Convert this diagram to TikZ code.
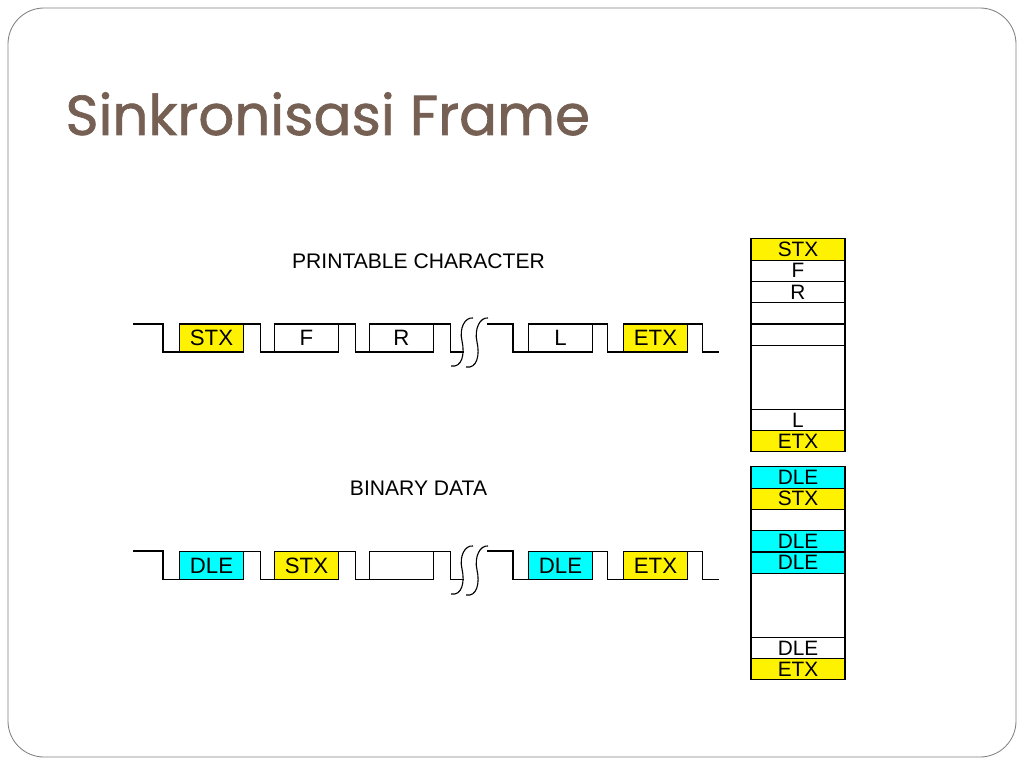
\documentclass[tikz,border=0pt]{standalone}
\usepackage{fontspec}
\setmainfont{Liberation Sans}
\newfontfamily\titlefont[FakeBold=1.2]{Poppins}
\usetikzlibrary{positioning}
\definecolor{titlebrown}{RGB}{118,96,84}
\definecolor{dlecyan}{RGB}{0,255,255}
\tikzset{
  char/.style={
    draw,
    inner sep = 0pt,
    outer sep = 0pt,
    minimum width = 1.6cm,
    minimum height = 0.7cm,
    font = \fontsize{15.8}{17}\selectfont
  },
  cell/.style={
    draw,
    inner sep = 0pt,
    outer sep = 0pt,
    minimum width = 2.35cm,
    minimum height = 0.532cm,
    font = \fontsize{14.8}{16}\selectfont
  },
  bigcell/.style={
    cell,
    minimum height = 1.6cm
  },
  caption/.style={
    inner sep = 0pt,
    font = \fontsize{15}{17}\selectfont
  },
  cut/.pic={
    \draw (-12,24) .. controls (-1,26) and (2,12) .. (-1,-1) .. controls (-4,-14) and (2,-25) .. (10,-24);
    \draw (3,25) .. controls (14,27) and (17,13) .. (14,0) .. controls (11,-13) and (17,-25) .. (25,-24);
  }
}

\begin{document}
\begin{tikzpicture}[x=0.025cm, y=-0.025cm, line width=0.8pt]
    \useasboundingbox (0,0) rectangle (1024,768);
    \draw[gray, line width=0.6pt, rounded corners=0.9cm] (8,8) rectangle (1016,757);
    \node[anchor=base west, inner sep=0pt, text=titlebrown, font=\titlefont\fontsize{40}{48}\selectfont] (title) at (65,135) {Sinkronisasi Frame};

    % printable character
    \node[caption] (pc) at (418.5,261) {PRINTABLE CHARACTER};
    \node[char, fill=yellow] (a1) at (211.5,338) {STX};
    \node[char] (a2) at (306.5,338) {F};
    \node[char] (a3) at (401.5,338) {R};
    \node[char] (a5) at (560.5,338) {L};
    \node[char, fill=yellow] (a6) at (655.5,338) {ETX};
    \coordinate (a0) at (133,324);
    \coordinate (a4) at (487,324);
    \draw (a0) -- ++(30,0) |- (a1.south west);
    \draw (a1.north east) -- ++(17,0) |- (a2.south west);
    \draw (a2.north east) -- ++(17,0) |- (a3.south west);
    \draw (a3.north east) -- ++(17,0) |- ++(13,28);
    \pic at (463,342) {cut};
    \draw (a4) -- ++(26,0) |- (a5.south west);
    \draw (a5.north east) -- ++(15,0) |- (a6.south west);
    \draw (a6.north east) -- ++(15,0) |- ++(16,28);

    % binary data
    \node[caption] (bd) at (418.5,488) {BINARY DATA};
    \node[char, fill=dlecyan] (b1) at (211.5,565.5) {DLE};
    \node[char, fill=yellow] (b2) at (306.5,565.5) {STX};
    \node[char] (b3) at (401.5,565.5) {};
    \node[char, fill=dlecyan] (b5) at (560.5,565.5) {DLE};
    \node[char, fill=yellow] (b6) at (655.5,565.5) {ETX};
    \coordinate (b0) at (133,551);
    \coordinate (b4) at (487,551);
    \draw (b0) -- ++(30,0) |- (b1.south west);
    \draw (b1.north east) -- ++(17,0) |- (b2.south west);
    \draw (b2.north east) -- ++(17,0) |- (b3.south west);
    \draw (b3.north east) -- ++(17,0) |- ++(13,28);
    \pic at (463,570) {cut};
    \draw (b4) -- ++(26,0) |- (b5.south west);
    \draw (b5.north east) -- ++(15,0) |- (b6.south west);
    \draw (b6.north east) -- ++(15,0) |- ++(16,28);

    % stacks
    \node[cell, fill=yellow] (p1) at (798,249.5) {STX};
    \node[cell, below=0pt of p1] (p2) {F};
    \node[cell, below=0pt of p2] (p3) {R};
    \node[cell, below=0pt of p3] (p4) {};
    \node[cell, below=0pt of p4] (p5) {};
    \node[bigcell, below=0pt of p5] (p6) {};
    \node[cell, below=0pt of p6] (p7) {L};
    \node[cell, fill=yellow, below=0pt of p7] (p8) {ETX};

    \node[cell, fill=dlecyan] (q1) at (798,477.5) {DLE};
    \node[cell, fill=yellow, below=0pt of q1] (q2) {STX};
    \node[cell, below=0pt of q2] (q3) {};
    \node[cell, fill=dlecyan, below=0pt of q3] (q4) {DLE};
    \node[cell, fill=dlecyan, below=0pt of q4] (q5) {DLE};
    \node[bigcell, below=0pt of q5] (q6) {};
    \node[cell, below=0pt of q6] (q7) {DLE};
    \node[cell, fill=yellow, below=0pt of q7] (q8) {ETX};
\end{tikzpicture}
\end{document}
